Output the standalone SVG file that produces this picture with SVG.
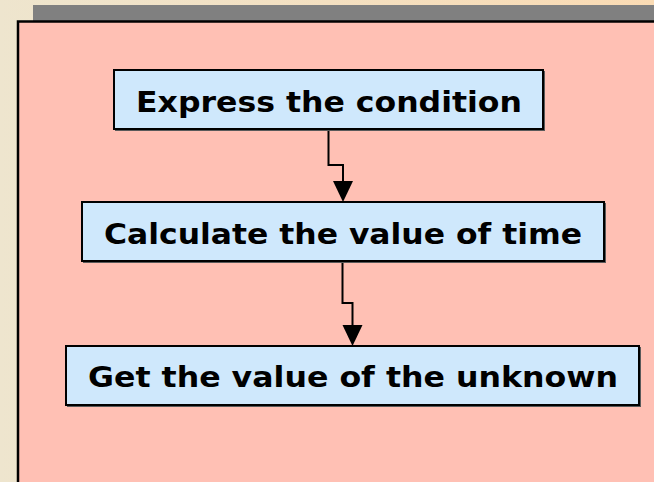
<svg xmlns="http://www.w3.org/2000/svg" width="654" height="482" viewBox="0 0 654 482">
  <defs>
    <linearGradient id="bg" x1="0" y1="0" x2="1" y2="0">
      <stop offset="0" stop-color="#EEE5CE"/>
      <stop offset="1" stop-color="#FADBB4"/>
    </linearGradient>
    <style>
      .box { fill: #CFE8FC; stroke: #000; stroke-width: 2; }
      .shadow { fill: #5a5a5a; }
      .label { font-family: "DejaVu Sans", Verdana, sans-serif; font-weight: bold; font-size: 28.5px; fill: #000; text-anchor: middle; }
      .conn { fill: none; stroke: #000; stroke-width: 2; }
      .head { fill: #000; }
    </style>
  </defs>

  <!-- page background -->
  <rect x="0" y="0" width="654" height="482" fill="url(#bg)"/>
  <!-- title bar -->
  <rect x="33" y="5" width="621" height="16" fill="#808080"/>
  <!-- content panel -->
  <rect x="18" y="21.5" width="660" height="480" fill="#FFC0B4" stroke="#000" stroke-width="2.5"/>

  <g id="connectors">
    <path class="conn" d="M328.5,129 V165 H343 V182" />
    <path class="head" d="M333,181 L353,181 L343,202 Z"/>
    <path class="conn" d="M342.5,261 V303 H352.5 V326" />
    <path class="head" d="M342.5,325 L362.5,325 L352.5,346 Z"/>
  </g>

  <g id="node-express">
    <rect class="shadow" x="115" y="71" width="430" height="60"/>
    <rect class="box" x="114" y="70" width="429" height="59"/>
    <text class="label" x="329" y="111.5" textLength="386" lengthAdjust="spacingAndGlyphs">Express the condition</text>
  </g>

  <g id="node-calculate">
    <rect class="shadow" x="83" y="203" width="523" height="60"/>
    <rect class="box" x="82" y="202" width="522" height="59"/>
    <text class="label" x="343" y="243.5" textLength="478" lengthAdjust="spacingAndGlyphs">Calculate the value of time</text>
  </g>

  <g id="node-get">
    <rect class="shadow" x="67" y="347" width="574" height="60"/>
    <rect class="box" x="66" y="346" width="573" height="59"/>
    <text class="label" x="353" y="387" textLength="530" lengthAdjust="spacingAndGlyphs">Get the value of the unknown</text>
  </g>
</svg>
